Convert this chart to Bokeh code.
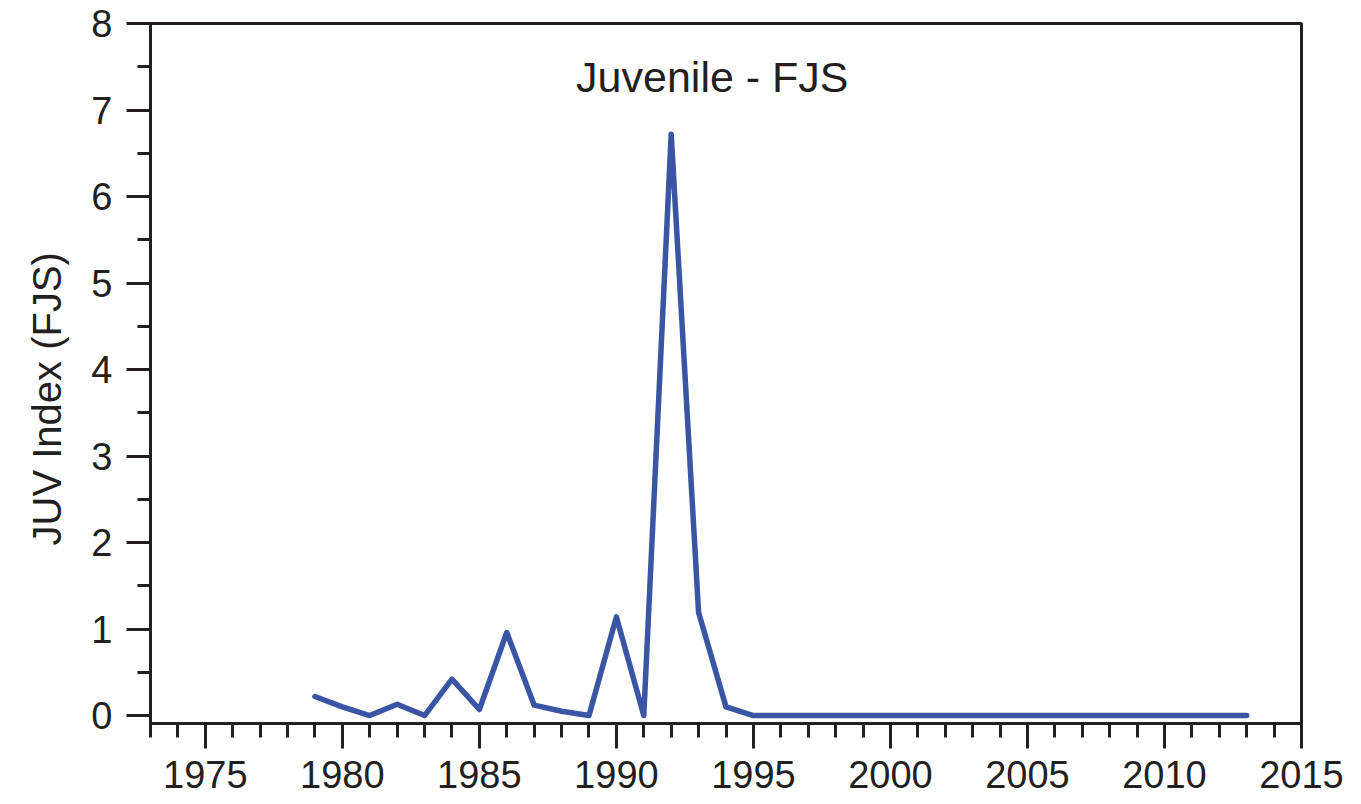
from bokeh.plotting import figure
from bokeh.models import FixedTicker, Range1d, Label, Title
from bokeh.embed import file_html
from bokeh.resources import INLINE

years = list(range(1979, 2014))
juv_index = [0.22, 0.10, 0.0, 0.13, 0.0, 0.42, 0.07, 0.96, 0.12, 0.05, 0.0,
             1.14, 0.0, 6.72, 1.19, 0.10, 0.0] + [0.0] * 18

x_major = list(range(1975, 2016, 5))
x_minor = list(range(1973, 2016, 1))
y_major = list(range(0, 9))
y_minor = [i * 0.5 for i in range(0, 17)]

title_text = "Juvenile - FJS"
y_label = "JUV Index (FJS)"

FONT = "Liberation Sans"
INK = "#231f20"

p = figure(width=1353, height=796, output_backend="svg", toolbar_location=None,
           x_range=Range1d(1973, 2015), y_range=Range1d(-0.092, 8),
           min_border_left=150, min_border_right=52, min_border_top=23,
           min_border_bottom=73)

p.line(years, juv_index, line_color="#3a55a4", line_width=5.5,
       line_join="round", line_cap="round")

p.grid.visible = False
p.outline_line_color = INK
p.outline_line_width = 3
p.outline_line_alpha = 1

xa = p.xaxis[0]
xa.ticker = FixedTicker(ticks=x_major, minor_ticks=x_minor)
xa.major_tick_out = 25
xa.major_tick_in = 0
xa.minor_tick_out = 14
xa.minor_tick_in = 0
xa.major_label_standoff = 12
xa.major_label_text_font = FONT
xa.major_label_text_font_size = "38px"
xa.major_label_text_color = INK

ya = p.yaxis[0]
ya.ticker = FixedTicker(ticks=y_major, minor_ticks=y_minor)
ya.major_tick_out = 24
ya.major_tick_in = 0
ya.minor_tick_out = 13
ya.minor_tick_in = 0
ya.major_label_standoff = 14
ya.major_label_text_font = FONT
ya.major_label_text_font_size = "38px"
ya.major_label_text_color = INK

for ax in (xa, ya):
    ax.axis_line_width = 3
    ax.axis_line_color = INK
    ax.major_tick_line_width = 3
    ax.major_tick_line_color = INK
    ax.minor_tick_line_width = 3
    ax.minor_tick_line_color = INK

p.add_layout(Label(x=1993.5, y=7.38, text=title_text, text_align="center",
                   text_baseline="alphabetic", text_font=FONT,
                   text_font_size="43px", text_color=INK))

p.add_layout(Title(text=y_label, align="left", offset=178, standoff=40,
                   text_font=FONT, text_font_size="40px",
                   text_font_style="normal", text_color=INK), "left")

open("out.html", "w").write(file_html(p, INLINE))
